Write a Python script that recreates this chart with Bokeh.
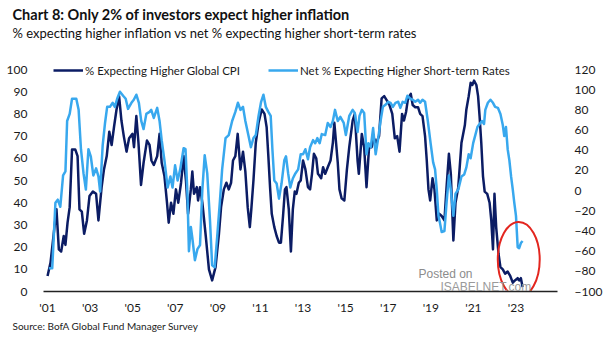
from bokeh.plotting import figure
from bokeh.models import (Range1d, LinearAxis, FixedTicker, Label, Legend, LegendItem, Title)
from bokeh.embed import file_html
from bokeh.resources import INLINE

# ---------------- data ----------------
cpi_year = [2001.00, 2001.14, 2001.29, 2001.42, 2001.53, 2001.64, 2001.76, 2001.84, 2001.94, 2002.04,
            2002.15, 2002.30, 2002.41, 2002.50, 2002.61, 2002.72, 2002.85, 2002.97, 2003.13, 2003.28,
            2003.39, 2003.54, 2003.65, 2003.78, 2003.90, 2004.01, 2004.12, 2004.24, 2004.36, 2004.47,
            2004.58, 2004.71, 2004.83, 2004.99, 2005.06, 2005.17, 2005.27, 2005.39, 2005.51, 2005.67,
            2005.79, 2005.88, 2005.99, 2006.15, 2006.26, 2006.36, 2006.49, 2006.61, 2006.69, 2006.80,
            2006.91, 2007.03, 2007.14, 2007.27, 2007.39, 2007.50, 2007.60, 2007.73, 2007.80, 2007.88,
            2008.01, 2008.07, 2008.16, 2008.27, 2008.43, 2008.58, 2008.73, 2008.89, 2009.05, 2009.15,
            2009.28, 2009.40, 2009.51, 2009.62, 2009.71, 2009.82, 2009.93, 2010.06, 2010.18, 2010.29,
            2010.40, 2010.50, 2010.57, 2010.67, 2010.78, 2010.91, 2011.06, 2011.19, 2011.29, 2011.37,
            2011.45, 2011.53, 2011.65, 2011.76, 2011.87, 2011.96, 2012.06, 2012.15, 2012.22, 2012.33,
            2012.43, 2012.52, 2012.61, 2012.69, 2012.80, 2012.89, 2013.00, 2013.11, 2013.23, 2013.33,
            2013.42, 2013.51, 2013.62, 2013.70, 2013.78, 2013.85, 2013.94, 2014.04, 2014.16, 2014.29,
            2014.40, 2014.47, 2014.55, 2014.63, 2014.71, 2014.81, 2014.94, 2015.06, 2015.17, 2015.33,
            2015.43, 2015.56, 2015.62, 2015.76, 2015.87, 2015.98, 2016.10, 2016.22, 2016.33, 2016.44,
            2016.57, 2016.69, 2016.81, 2016.94, 2017.06, 2017.19, 2017.31, 2017.42, 2017.53, 2017.65,
            2017.74, 2017.84, 2017.93, 2018.06, 2018.15, 2018.27, 2018.40, 2018.50, 2018.61, 2018.73,
            2018.81, 2018.89, 2018.97, 2019.08, 2019.17, 2019.28, 2019.39, 2019.51, 2019.64, 2019.74,
            2019.85, 2019.94, 2020.06, 2020.16, 2020.29, 2020.44, 2020.60, 2020.67, 2020.78, 2020.87,
            2020.95, 2021.03, 2021.14, 2021.22, 2021.29, 2021.37, 2021.45, 2021.53, 2021.65, 2021.76,
            2021.84, 2021.92, 2021.99, 2022.07, 2022.18, 2022.27, 2022.38, 2022.49, 2022.61, 2022.73,
            2022.85, 2022.95, 2023.08, 2023.15, 2023.23, 2023.31]
cpi_pct = [7, 13, 26, 37, 19, 18, 25, 21, 31, 38,
           64, 64, 61, 37, 36, 26, 32, 43, 45, 44,
           32, 47, 55, 61, 72, 66, 74, 82, 88, 77,
           70, 63, 69, 71, 65, 79, 67, 48, 58, 68,
           66, 59, 57, 61, 71, 58, 52, 40, 31, 40,
           35, 46, 40, 49, 61, 50, 35, 46, 54, 44,
           47, 41, 47, 40, 25, 10, 5, 11, 26, 38,
           46, 49, 46, 49, 59, 61, 71, 55, 63, 54,
           38, 29, 37, 50, 67, 76, 82, 80, 74, 61,
           47, 35, 29, 25, 22, 22, 34, 46, 47, 37,
           18, 37, 45, 44, 49, 50, 59, 55, 47, 46,
           53, 62, 60, 53, 52, 51, 56, 53, 56, 59,
           67, 76, 67, 58, 46, 42, 41, 55, 65, 77,
           80, 59, 53, 71, 65, 47, 65, 65, 69, 67,
           70, 87, 88, 86, 84, 80, 69, 70, 63, 80,
           77, 81, 87, 89, 84, 83, 83, 80, 79, 70,
           59, 46, 41, 51, 46, 32, 35, 34, 32, 47,
           62, 53, 23, 40, 47, 67, 75, 82, 88, 94,
           93, 95, 93, 88, 79, 67, 52, 45, 44, 40,
           32, 19, 44, 29, 17, 11, 10, 8, 9, 7,
           4, 5, 6, 5, 6, 2]

rates_year = [2001.06, 2001.22, 2001.37, 2001.48, 2001.60, 2001.73, 2001.84, 2001.92, 2002.04, 2002.15,
              2002.35, 2002.46, 2002.57, 2002.69, 2002.80, 2002.92, 2003.03, 2003.15, 2003.28, 2003.39,
              2003.47, 2003.59, 2003.70, 2003.80, 2003.93, 2004.06, 2004.16, 2004.27, 2004.40, 2004.55,
              2004.67, 2004.78, 2004.94, 2005.05, 2005.17, 2005.29, 2005.40, 2005.51, 2005.64, 2005.79,
              2005.87, 2005.99, 2006.15, 2006.26, 2006.36, 2006.49, 2006.64, 2006.77, 2006.87, 2006.99,
              2007.11, 2007.23, 2007.39, 2007.48, 2007.57, 2007.64, 2007.73, 2007.80, 2007.92, 2008.04,
              2008.16, 2008.27, 2008.38, 2008.50, 2008.63, 2008.73, 2008.85, 2008.97, 2009.09, 2009.20,
              2009.36, 2009.51, 2009.67, 2009.82, 2009.94, 2010.06, 2010.18, 2010.29, 2010.44, 2010.55,
              2010.67, 2010.78, 2010.91, 2011.03, 2011.14, 2011.25, 2011.37, 2011.48, 2011.56, 2011.65,
              2011.76, 2011.87, 2011.99, 2012.12, 2012.20, 2012.30, 2012.40, 2012.52, 2012.64, 2012.77,
              2012.89, 2013.00, 2013.11, 2013.23, 2013.33, 2013.47, 2013.57, 2013.67, 2013.78, 2013.88,
              2014.04, 2014.16, 2014.29, 2014.40, 2014.50, 2014.63, 2014.75, 2014.91, 2015.01, 2015.17,
              2015.33, 2015.43, 2015.56, 2015.65, 2015.76, 2015.87, 2015.98, 2016.07, 2016.18, 2016.29,
              2016.41, 2016.53, 2016.64, 2016.75, 2016.87, 2017.00, 2017.11, 2017.22, 2017.34, 2017.47,
              2017.57, 2017.68, 2017.80, 2017.90, 2018.04, 2018.15, 2018.27, 2018.40, 2018.50, 2018.61,
              2018.73, 2018.86, 2018.99, 2019.11, 2019.20, 2019.28, 2019.36, 2019.43, 2019.51, 2019.64,
              2019.74, 2019.85, 2019.94, 2020.06, 2020.16, 2020.29, 2020.44, 2020.57, 2020.67, 2020.78,
              2020.87, 2020.99, 2021.09, 2021.19, 2021.29, 2021.40, 2021.50, 2021.56, 2021.68, 2021.80,
              2021.92, 2022.02, 2022.15, 2022.27, 2022.38, 2022.45, 2022.53, 2022.61, 2022.69, 2022.77,
              2022.85, 2022.92, 2023.00, 2023.08, 2023.15, 2023.23, 2023.31]
rates_net = [-77, -77, -12, -9, -16, 15, 19, 69, 76, 91,
             91, 80, 41, 17, 1, 41, 34, 15, 22, 14,
             -1, 45, 67, 83, 83, 87, 83, 91, 98, 94,
             91, 81, 87, 90, 95, 87, 69, 61, 76, 78,
             80, 72, 82, 69, 50, 30, 3, 14, 3, 25,
             10, 21, 42, 41, -3, -60, -36, -47, -69, -58,
             -54, 1, 35, 17, -30, -74, -76, -45, -12, 21,
             52, 55, 69, 78, 87, 80, 83, 69, 54, 43,
             52, 55, 74, 88, 95, 83, 78, 74, 41, 10,
             7, -8, 7, 30, 34, 17, 3, 12, 17, 21,
             36, 36, 41, 31, 43, 50, 47, 52, 47, 56,
             55, 67, 63, 69, 80, 69, 73, 67, 55, 74,
             80, 77, 58, 74, 80, 77, 36, 47, 43, 62,
             36, 52, 69, 83, 85, 88, 87, 83, 87, 88,
             82, 88, 87, 94, 91, 90, 88, 90, 87, 90,
             88, 69, 47, 28, 21, 1, -25, -32, -41, -40,
             -12, 15, 1, -25, -3, 1, 14, 16, 23, 36,
             32, 47, 55, 63, 66, 69, 66, 80, 87, 90,
             87, 83, 82, 76, 65, 54, 63, 41, 30, 14,
             1, -12, -25, -56, -57, -52, -50]

x_ticks = [2001, 2003, 2005, 2007, 2009, 2011, 2013, 2015, 2017, 2019, 2021, 2023]
x_tick_labels = ["'01", "'03", "'05", "'07", "'09", "'11", "'13", "'15", "'17", "'19", "'21", "'23"]
left_ticks = [0, 10, 20, 30, 40, 50, 60, 70, 80, 90, 100]
right_ticks = [-100, -80, -60, -40, -20, 0, 20, 40, 60, 80, 100, 120]

series_names = ["% Expecting Higher Global CPI", "Net % Expecting Higher Short-term Rates"]
title_text = "Chart 8: Only 2% of investors expect higher inflation"
subtitle_text = "% expecting higher inflation vs net % expecting higher short-term rates"
source_text = "Source: BofA Global Fund Manager Survey"

# ---------------- style ----------------
DARK = "#0b1c64"
LIGHT = "#38a8ee"
FONT = "Lato"
TXT = "#1a1a1a"

FL, FR, FT, FB = 43, 562, 60, 291   # frame edges in canvas pixels
W, H = 605, 341
PX_PER_UNIT = 2.22                  # left-axis pixels per unit (0..100 spans 222 px)
top_left = (FB - FT) / PX_PER_UNIT  # left value at frame top
top_right = -100 + 2.2 * top_left   # right value at frame top

p = figure(width=W, height=H, output_backend="svg", toolbar_location=None,
           x_range=Range1d(2000.81, 2024.95), y_range=Range1d(0, top_left),
           min_border_left=FL, min_border_right=W - FR, min_border_top=FT,
           min_border_bottom=H - FB, outline_line_color=None,
           background_fill_color="white", border_fill_color="white")
p.extra_y_ranges = {"rates": Range1d(-100, top_right)}
p.xgrid.visible = False
p.ygrid.visible = False

# x axis
xa = p.xaxis[0]
xa.ticker = FixedTicker(ticks=x_ticks)
xa.major_label_overrides = {t: l for t, l in zip(x_ticks, x_tick_labels)}
xa.axis_line_color = "#222222"
xa.axis_line_width = 1.5
xa.major_tick_line_color = None
xa.minor_tick_line_color = None
xa.major_label_standoff = 2
xa.major_label_text_font = FONT
xa.major_label_text_font_size = "12px"
xa.major_label_text_color = TXT

# left axis
ya = p.yaxis[0]
ya.ticker = FixedTicker(ticks=left_ticks)
ya.axis_line_color = None
ya.major_tick_line_color = None
ya.minor_tick_line_color = None
ya.major_label_standoff = 10
ya.major_label_text_font = FONT
ya.major_label_text_font_size = "12px"
ya.major_label_text_color = TXT

# right axis
ra = LinearAxis(y_range_name="rates", ticker=FixedTicker(ticks=right_ticks))
ra.axis_line_color = None
ra.major_tick_line_color = None
ra.minor_tick_line_color = None
ra.major_label_standoff = 11
ra.major_label_text_font = FONT
ra.major_label_text_font_size = "12px"
ra.major_label_text_color = TXT
p.add_layout(ra, "right")

# lines
r_cpi = p.line(cpi_year, cpi_pct, line_color=DARK, line_width=2.5, line_join="round")
r_rates = p.line(rates_year, rates_net, line_color=LIGHT, line_width=2.5, line_join="round",
                 y_range_name="rates")

# red highlight ellipse (annotation)
ELL_X, ELL_Y, ELL_W, ELL_H = 2023.13, 14.4, 1.97, 33.8
p.ellipse(x=[ELL_X], y=[ELL_Y], width=[ELL_W], height=[ELL_H], fill_alpha=0,
          line_color="#e3261f", line_width=2)

# legends (two single-item legends to control positions)
def add_legend(item_renderer, label, fx):
    lg = Legend(items=[LegendItem(label=label, renderers=[item_renderer])],
                location=(fx, FB - 70 - 8), orientation="horizontal",
                glyph_width=30, glyph_height=16, label_height=16, label_standoff=2,
                padding=0, margin=0, spacing=0,
                label_text_font=FONT, label_text_font_size="11.5px",
                label_text_color=TXT, background_fill_alpha=0,
                border_line_alpha=0)
    p.add_layout(lg)

add_legend(r_cpi, series_names[0], 53 - FL)
add_legend(r_rates, series_names[1], 268 - FL)

# titles (stacked in the top panel; a blank spacer sits nearest the frame)
spacer = Title(text=" ", align="left", offset=-31, standoff=0,
               text_font=FONT, text_font_size="13px")
sub = Title(text=subtitle_text, align="left", offset=-31, standoff=0,
            vertical_align="top",
            text_font=FONT, text_font_size="13px", text_font_style="normal",
            text_color="#111111")
ttl = Title(text=title_text, align="left", offset=-31, standoff=0,
            vertical_align="top",
            text_font=FONT, text_font_size="14.5px", text_font_style="bold",
            text_color="#111111")
p.add_layout(spacer, "above")
p.add_layout(sub, "above")
p.add_layout(ttl, "above")

src = Title(text=source_text, align="left", offset=-31, standoff=0,
            text_font=FONT, text_font_size="10px", text_font_style="normal",
            text_color="#222222")
p.add_layout(src, "below")

# watermark (inside frame)
for txt, cx, cy, size, col in [("Posted on", 418, 273, "12px", "#8c8c8c"),
                               ("ISABELNET.com", 440, 286, "12px", "#9a9a9a")]:
    p.add_layout(Label(x=cx - FL, y=FB - cy, x_units="screen", y_units="screen",
                       text=txt, text_font="Liberation Sans", text_font_size=size,
                       text_color=col, text_baseline="alphabetic", text_align="left"))

open("out.html", "w").write(file_html(p, INLINE))
